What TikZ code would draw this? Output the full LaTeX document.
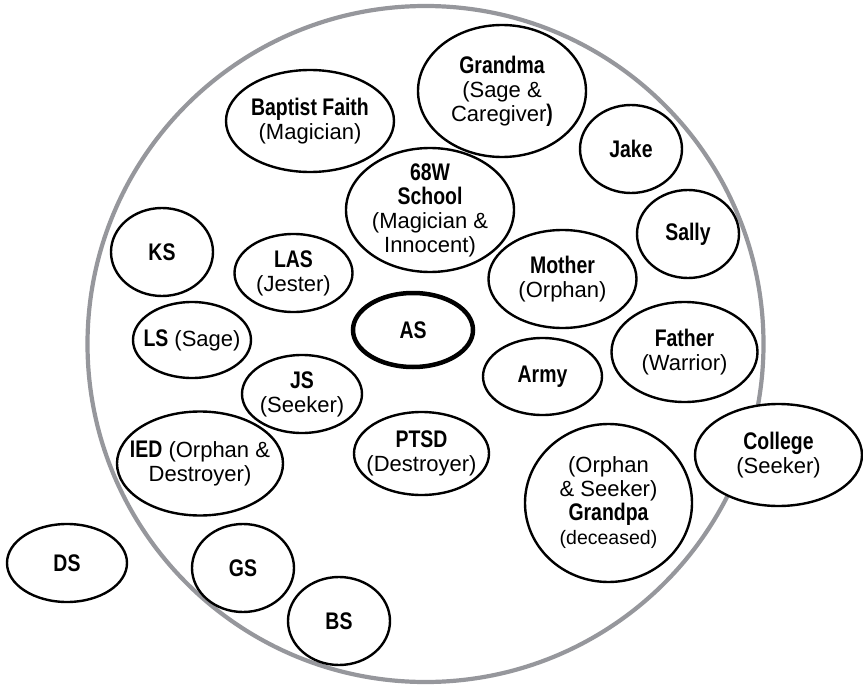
\documentclass[tikz,border=0pt]{standalone}
\usepackage{fontspec}
\setmainfont{Liberation Sans}
\newfontfamily\condb{Liberation Sans}[FakeStretch=0.81]
\usetikzlibrary{shapes.geometric}
\definecolor{ringgray}{RGB}{150,151,156}
\newcommand{\bl}[1]{{\condb\bfseries\fontsize{24}{24}\selectfont #1}}
\tikzset{
  ell/.style 2 args={ellipse, draw=black, fill=white, line width=2.4pt,
    minimum width=#1pt, minimum height=#2pt, inner sep=0pt},
  txt/.style={align=center, inner sep=0pt, font=\fontsize{22}{24}\selectfont}
}
\begin{document}
\begin{tikzpicture}[x=1pt,y=-1pt]
\useasboundingbox (0,0) rectangle (863,685);
% outer ring
\node[circle, draw=ringgray, line width=4.2pt, minimum size=676pt, inner sep=0pt] (ring) at (425.5,344) {};
% ellipses
\node[ell={168}{102}] (bf) at (310,121) {};
\node[txt] (bft) at (bf) {\bl{Baptist Faith}\\(Magician)};
\node[ell={168}{132}] (gma) at (502,91) {};
\node[txt] (gmat) at (gma) {\bl{Grandma}\\(Sage \&\\Caregiver\bl{)}};
\node[ell={102}{88}] (jake) at (631,149) {};
\node[txt] (jaket) at (jake) {\bl{Jake}};
\node[ell={102}{88}] (sally) at (688,234) {};
\node[txt] (sallyt) at (sally) {\bl{Sally}};
\node[ell={168}{124}] (school) at (430,210) {};
\node[txt] (schoolt) at (school) {\bl{68W}\\\bl{School}\\(Magician \&\\Innocent)};
\node[ell={102}{88}] (ks) at (162,252) {};
\node[txt] (kst) at (ks) {\bl{KS}};
\node[ell={118}{78}] (las) at (293.5,273) {};
\node[txt] (last) at (las) {\bl{LAS}\\(Jester)};
\node[ell={148}{98}] (mother) at (562.5,279) {};
\node[txt] (mothert) at (mother) {\bl{Mother}\\(Orphan)};
\node[ell={118}{76}] (ls) at (192,340) {};
\node[txt] (lst) at (ls) {\bl{LS} (Sage)};
\node[ell={120}{74}, line width=4.5pt] (as) at (413,330) {};
\node[txt] (ast) at (as) {\bl{AS}};
\node[ell={146}{100}] (father) at (684.5,352) {};
\node[txt] (fathert) at (father) {\bl{Father}\\(Warrior)};
\node[ell={119}{77}] (army) at (542.5,376.5) {};
\node[txt] (armyt) at (army) {\bl{Army}};
\node[ell={120}{78}] (js) at (302,394) {};
\node[txt] (jst) at (js) {\bl{JS}\\(Seeker)};
\node[ell={166}{104}] (ied) at (200,463.5) {};
\node[txt] (iedt) at (ied) {\bl{IED} (Orphan \&\\Destroyer)};
\node[ell={135}{83}] (ptsd) at (421.5,453.5) {};
\node[txt] (ptsdt) at (ptsd) {\bl{PTSD}\\(Destroyer)};
\node[ell={167}{158}] (gpa) at (608.5,503) {};
\node[txt] (gpat) at (gpa) {(Orphan\\\& Seeker)\\\bl{Grandpa}\\{\fontsize{19.5}{24}\selectfont(deceased)}};
\node[ell={167}{102}] (college) at (778.5,455) {};
\node[txt] (colleget) at (college) {\bl{College}\\(Seeker)};
\node[ell={120}{78}] (ds) at (67,563) {};
\node[txt] (dst) at (ds) {\bl{DS}};
\node[ell={102}{88}] (gs) at (243,568) {};
\node[txt] (gst) at (gs) {\bl{GS}};
\node[ell={102}{88}] (bs) at (339,621) {};
\node[txt] (bst) at (bs) {\bl{BS}};
\end{tikzpicture}
\end{document}
